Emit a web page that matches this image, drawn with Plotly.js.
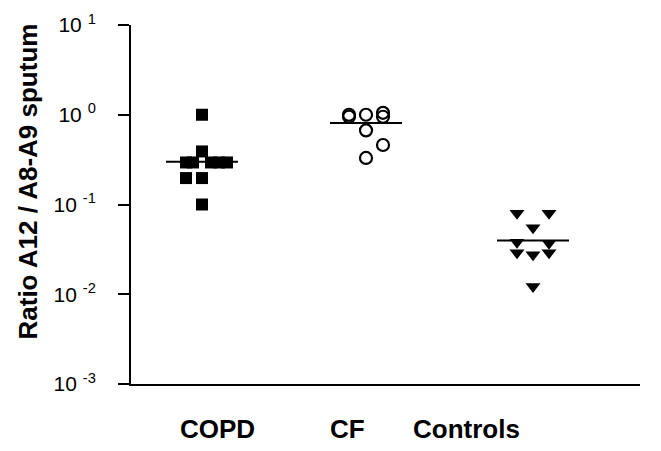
<!DOCTYPE html>
<html>
<head>
<meta charset="utf-8">
<script src="https://cdn.plot.ly/plotly-3.0.1.min.js"></script>
<style>html,body{margin:0;padding:0;background:#fff;}#chart{width:661px;height:451px;}</style>
</head>
<body>
<div id="chart"></div>
<script>
// ---- data ----
const categories = ["COPD", "CF", "Controls"];
const copdValues = [1.0, 0.39, 0.294, 0.294, 0.294, 0.294, 0.294, 0.197, 0.197, 0.1];
const cfValues = [1.0, 0.95, 1.0, 1.05, 0.95, 0.67, 0.46, 0.33];
const controlValues = [0.080, 0.080, 0.055, 0.038, 0.037, 0.029, 0.0275, 0.029, 0.0122];
const meanValues = [0.30, 0.81, 0.0397];
const yTickValues = [0.001, 0.01, 0.1, 1, 10];
const yTickLabels = ["10 <sup>-3</sup>", "10 <sup>-2</sup>", "10 <sup>-1</sup>", "10 <sup>0</sup>", "10 <sup>1</sup>"];
const yTitle = "Ratio A12 / A8-A9 sputum";

// ---- layout helpers (positions, not data) ----
const groupX = [202, 366, 533];
const labelX = [217, 347, 466];
const copdJitter = [0, 0, -16, -9, 9, 17, 25, -16, 0, 0];
const cfJitter = [-17, -17, 0, 17, 17, 0, 17, 0];
const ctrlJitter = [-16, 16, 0, -16, 16, -16, 0, 16, 0];
const halfLine = 36;

const font = "Liberation Sans, Arial, sans-serif";
const traces = [];
function pts(vals, jit, gx, symbol, size) {
  traces.push({
    type: "scatter", mode: "markers",
    x: vals.map((v, i) => gx + jit[i]), y: vals,
    marker: {symbol: symbol, size: size, color: "#000", line: {color: "#000", width: symbol.indexOf("open") >= 0 ? 2.2 : 0}},
    hoverinfo: "y", showlegend: false, cliponaxis: false
  });
}
pts(copdValues, copdJitter, groupX[0], "square", 12);
pts(cfValues, cfJitter, groupX[1], "circle-open", 12);
pts(controlValues, ctrlJitter, groupX[2], "triangle-down", 13);
meanValues.forEach((m, i) => {
  traces.push({type: "scatter", mode: "lines", x: [groupX[i] - halfLine, groupX[i] + halfLine], y: [m, m],
    line: {color: "#000", width: 2}, hoverinfo: "skip", showlegend: false});
});

const annotations = categories.map((c, i) => ({
  text: "<b>" + c + "</b>", x: labelX[i], xref: "x", y: -0.1253, yref: "paper", xanchor: "center", yanchor: "middle",
  showarrow: false, font: {family: font, size: 26, color: "#000"}
}));
annotations.push({
  text: "<b>" + yTitle + "</b>", textangle: -90, x: -0.2024, xref: "paper", y: 0.564, yref: "paper",
  xanchor: "center", yanchor: "middle", showarrow: false,
  font: {family: font, size: 26, color: "#000"}
});

const layout = {
  width: 661, height: 451,
  margin: {l: 131, r: 21, t: 25, b: 67},
  paper_bgcolor: "#fff", plot_bgcolor: "#fff",
  showlegend: false,
  xaxis: {range: [131, 640], showgrid: false, zeroline: false, showline: true, linecolor: "#000", linewidth: 2,
    showticklabels: false, ticks: "", fixedrange: true},
  yaxis: {type: "log", range: [-3, 1], showgrid: false, zeroline: false, showline: true, linecolor: "#000", linewidth: 2,
    ticks: "outside", ticklen: 11, tickwidth: 2, tickcolor: "#000",
    tickvals: yTickValues, ticktext: yTickLabels, ticklabelstandoff: 18,
    tickfont: {family: font, size: 21, color: "#000"}, fixedrange: true},
  annotations: annotations,
  font: {family: font, color: "#000"}
};
Plotly.newPlot("chart", traces, layout, {displayModeBar: false, staticPlot: true});
</script>
</body>
</html>
